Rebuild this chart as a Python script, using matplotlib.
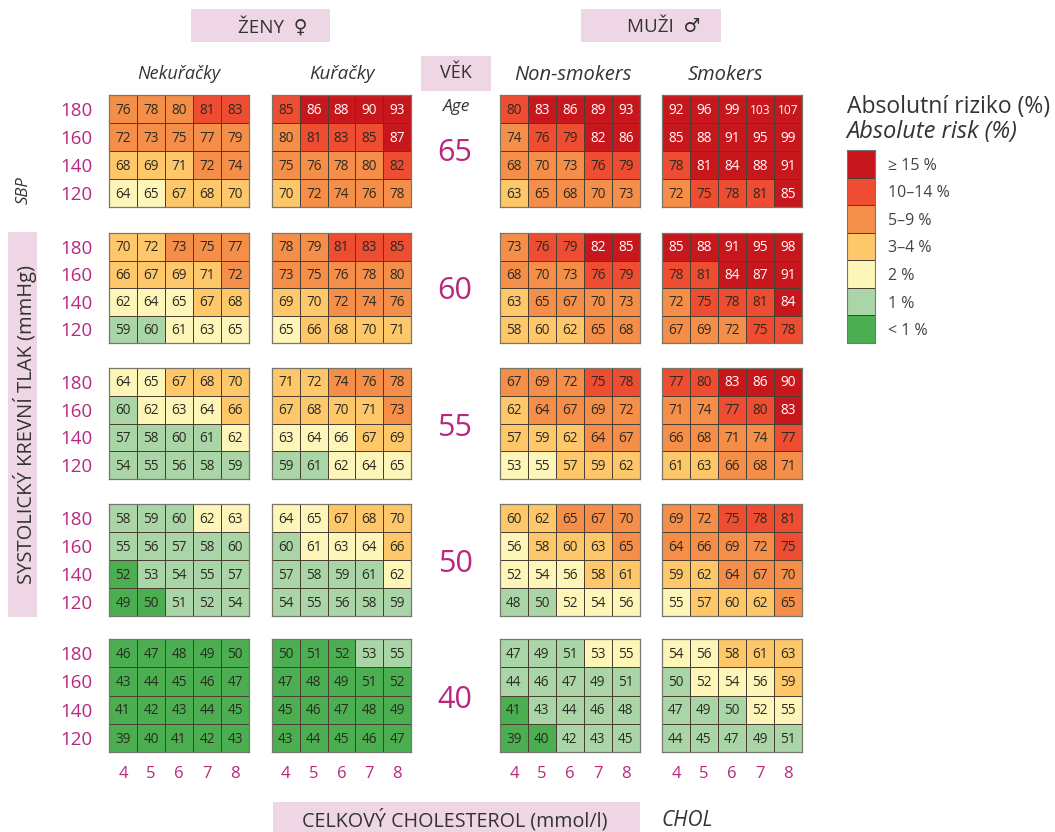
import matplotlib
matplotlib.use("Agg")
import matplotlib.pyplot as plt
import numpy as np
from matplotlib.colors import ListedColormap, BoundaryNorm
from matplotlib.patches import Rectangle

plt.rcParams['font.family'] = ['Open Sans', 'DejaVu Sans']

W = 1055
H = 832

ages = [65, 60, 55, 50, 40]
sbp = [180, 160, 140, 120]
chol = [4, 5, 6, 7, 8]
group_names = ["w_ns", "w_s", "m_ns", "m_s"]

# values printed in the cells
w_ns_vals = {
    65: [[76, 78, 80, 81, 83], [72, 73, 75, 77, 79], [68, 69, 71, 72, 74], [64, 65, 67, 68, 70]],
    60: [[70, 72, 73, 75, 77], [66, 67, 69, 71, 72], [62, 64, 65, 67, 68], [59, 60, 61, 63, 65]],
    55: [[64, 65, 67, 68, 70], [60, 62, 63, 64, 66], [57, 58, 60, 61, 62], [54, 55, 56, 58, 59]],
    50: [[58, 59, 60, 62, 63], [55, 56, 57, 58, 60], [52, 53, 54, 55, 57], [49, 50, 51, 52, 54]],
    40: [[46, 47, 48, 49, 50], [43, 44, 45, 46, 47], [41, 42, 43, 44, 45], [39, 40, 41, 42, 43]],
}
w_s_vals = {
    65: [[85, 86, 88, 90, 93], [80, 81, 83, 85, 87], [75, 76, 78, 80, 82], [70, 72, 74, 76, 78]],
    60: [[78, 79, 81, 83, 85], [73, 75, 76, 78, 80], [69, 70, 72, 74, 76], [65, 66, 68, 70, 71]],
    55: [[71, 72, 74, 76, 78], [67, 68, 70, 71, 73], [63, 64, 66, 67, 69], [59, 61, 62, 64, 65]],
    50: [[64, 65, 67, 68, 70], [60, 61, 63, 64, 66], [57, 58, 59, 61, 62], [54, 55, 56, 58, 59]],
    40: [[50, 51, 52, 53, 55], [47, 48, 49, 51, 52], [45, 46, 47, 48, 49], [43, 44, 45, 46, 47]],
}
m_ns_vals = {
    65: [[80, 83, 86, 89, 93], [74, 76, 79, 82, 86], [68, 70, 73, 76, 79], [63, 65, 68, 70, 73]],
    60: [[73, 76, 79, 82, 85], [68, 70, 73, 76, 79], [63, 65, 67, 70, 73], [58, 60, 62, 65, 68]],
    55: [[67, 69, 72, 75, 78], [62, 64, 67, 69, 72], [57, 59, 62, 64, 67], [53, 55, 57, 59, 62]],
    50: [[60, 62, 65, 67, 70], [56, 58, 60, 63, 65], [52, 54, 56, 58, 61], [48, 50, 52, 54, 56]],
    40: [[47, 49, 51, 53, 55], [44, 46, 47, 49, 51], [41, 43, 44, 46, 48], [39, 40, 42, 43, 45]],
}
m_s_vals = {
    65: [[92, 96, 99, 103, 107], [85, 88, 91, 95, 99], [78, 81, 84, 88, 91], [72, 75, 78, 81, 85]],
    60: [[85, 88, 91, 95, 98], [78, 81, 84, 87, 91], [72, 75, 78, 81, 84], [67, 69, 72, 75, 78]],
    55: [[77, 80, 83, 86, 90], [71, 74, 77, 80, 83], [66, 68, 71, 74, 77], [61, 63, 66, 68, 71]],
    50: [[69, 72, 75, 78, 81], [64, 66, 69, 72, 75], [59, 62, 64, 67, 70], [55, 57, 60, 62, 65]],
    40: [[54, 56, 58, 61, 63], [50, 52, 54, 56, 59], [47, 49, 50, 52, 55], [44, 45, 47, 49, 51]],
}

# risk class of each cell, 0 = <1 % ... 6 = >=15 %
w_ns_risk = {
    65: [[4, 4, 4, 5, 5], [4, 4, 4, 4, 4], [3, 3, 3, 4, 4], [2, 2, 3, 3, 3]],
    60: [[3, 3, 4, 4, 4], [3, 3, 3, 3, 4], [2, 2, 2, 3, 3], [1, 1, 2, 2, 2]],
    55: [[2, 2, 3, 3, 3], [1, 2, 2, 2, 3], [1, 1, 1, 1, 2], [1, 1, 1, 1, 1]],
    50: [[1, 1, 1, 2, 2], [1, 1, 1, 1, 1], [0, 1, 1, 1, 1], [0, 0, 1, 1, 1]],
    40: [[0, 0, 0, 0, 0], [0, 0, 0, 0, 0], [0, 0, 0, 0, 0], [0, 0, 0, 0, 0]],
}
w_s_risk = {
    65: [[5, 6, 6, 6, 6], [4, 5, 5, 5, 6], [4, 4, 4, 4, 5], [3, 4, 4, 4, 4]],
    60: [[4, 4, 5, 5, 5], [4, 4, 4, 4, 4], [3, 3, 4, 4, 4], [2, 3, 3, 3, 3]],
    55: [[3, 3, 4, 4, 4], [3, 3, 3, 3, 4], [2, 2, 2, 3, 3], [1, 1, 2, 2, 2]],
    50: [[2, 2, 3, 3, 3], [1, 2, 2, 2, 3], [1, 1, 1, 1, 2], [1, 1, 1, 1, 1]],
    40: [[0, 0, 0, 1, 1], [0, 0, 0, 0, 0], [0, 0, 0, 0, 0], [0, 0, 0, 0, 0]],
}
m_ns_risk = {
    65: [[5, 6, 6, 6, 6], [4, 5, 5, 6, 6], [4, 4, 4, 5, 5], [3, 4, 4, 4, 4]],
    60: [[4, 5, 5, 6, 6], [4, 4, 4, 5, 5], [3, 4, 4, 4, 4], [3, 3, 3, 4, 4]],
    55: [[4, 4, 4, 5, 5], [3, 4, 4, 4, 4], [3, 3, 3, 4, 4], [2, 2, 3, 3, 3]],
    50: [[3, 3, 4, 4, 4], [2, 3, 3, 3, 4], [2, 2, 2, 3, 3], [1, 1, 2, 2, 2]],
    40: [[1, 1, 1, 2, 2], [1, 1, 1, 1, 1], [0, 1, 1, 1, 1], [0, 0, 1, 1, 1]],
}
m_s_risk = {
    65: [[6, 6, 6, 6, 6], [6, 6, 6, 6, 6], [5, 6, 6, 6, 6], [4, 5, 5, 5, 6]],
    60: [[6, 6, 6, 6, 6], [5, 5, 6, 6, 6], [4, 5, 5, 5, 6], [4, 4, 4, 5, 5]],
    55: [[5, 5, 6, 6, 6], [4, 4, 5, 5, 6], [4, 4, 4, 4, 5], [3, 3, 4, 4, 4]],
    50: [[4, 4, 5, 5, 5], [4, 4, 4, 4, 5], [3, 3, 4, 4, 4], [2, 3, 3, 3, 4]],
    40: [[2, 2, 3, 3, 3], [1, 2, 2, 2, 3], [1, 1, 1, 2, 2], [1, 1, 1, 1, 1]],
}

risk_colors = ['#4bae50', '#a9d5a7', '#fef6b8', '#fdc76a', '#f58e48', '#ee4d31', '#c8161d']
legend_classes = [6, 5, 4, 3, 2, 1, 0]
legend_labels = ['≥ 15 %', '10–14 %', '5–9 %', '3–4 %', '2 %', '1 %', '< 1 %']

cmap = ListedColormap(risk_colors)
norm = BoundaryNorm(np.arange(-0.5, 7.5, 1), cmap.N)

PINK = '#efd6e5'
MAGENTA = '#b9277f'
DARK = '#333333'
GRIDC = '#4a3f32'

# pixel boxes of the panels
col_x = {"w_ns": (109, 249), "w_s": (272, 411), "m_ns": (500, 640), "m_s": (662, 802)}
row_y = {65: (95, 207), 60: (233, 343), 55: (368, 479), 50: (504, 616), 40: (639, 752)}

vals = {"w_ns": w_ns_vals, "w_s": w_s_vals, "m_ns": m_ns_vals, "m_s": m_s_vals}
risks = {"w_ns": w_ns_risk, "w_s": w_s_risk, "m_ns": m_ns_risk, "m_s": m_s_risk}


def px_axes(x0, y0, x1, y1):
    return fig.add_axes([x0 / W, 1 - y1 / H, (x1 - x0) / W, (y1 - y0) / H])


def label(x, y, s, **kw):
    kw.setdefault('ha', 'center')
    kw.setdefault('va', 'center')
    kw.setdefault('color', DARK)
    fig.text(x / W, 1 - y / H, s, **kw)


def pink_box(x0, y0, x1, y1):
    fig.add_artist(Rectangle((x0 / W, 1 - y1 / H), (x1 - x0) / W, (y1 - y0) / H,
                             transform=fig.transFigure, facecolor=PINK, edgecolor='none'))


fig = plt.figure(figsize=(W / 100, H / 100), dpi=100, facecolor='white')

pink_box(191, 9, 330, 42)
pink_box(581, 9, 721, 42)
pink_box(421, 56, 491, 91)
pink_box(8, 232, 37, 617)
pink_box(273, 802, 640, 832)

for name in group_names:
    x0, x1 = col_x[name]
    for age in ages:
        y0, y1 = row_y[age]
        ax = px_axes(x0, y0, x1, y1)
        z = np.array(risks[name][age])
        ax.pcolormesh(z, cmap=cmap, norm=norm, edgecolors=GRIDC, linewidth=0.7)
        ax.set_ylim(4, 0)
        for i in range(4):
            for j in range(5):
                v = vals[name][age][i][j]
                ax.text(j + 0.5, i + 0.54, str(v), ha='center', va='center',
                        fontsize=8.6 if v > 99 else 9.8, color='white' if z[i, j] == 6 else '#2b2b22')
        ax.set_xticks(np.arange(5) + 0.5)
        ax.set_yticks(np.arange(4) + 0.5)
        ax.set_xticklabels(chol if age == 40 else [], fontsize=12, color=MAGENTA)
        ax.set_yticklabels(sbp if name == "w_ns" else [], fontsize=13.5, color=MAGENTA,
                           va='center_baseline')
        ax.tick_params(length=0)
        ax.tick_params(axis='x', pad=10)
        ax.tick_params(axis='y', pad=12)
        for sp in ax.spines.values():
            sp.set_color('#77776c')
            sp.set_linewidth(0.9)

age_y = {65: 153, 60: 291, 55: 428, 50: 564, 40: 700}
for age in ages:
    label(455, age_y[age], str(age), fontsize=22, color=MAGENTA)

label(273, 27, 'ŽENY  ♀', fontsize=13.5)
label(664, 27, 'MUŽI  ♂', fontsize=13.5)
label(456, 73, 'VĚK', fontsize=13)
label(457, 107, 'Age', fontsize=12.5, style='italic')
label(179, 74, 'Nekuřačky', fontsize=13, style='italic')
label(342, 74, 'Kuřačky', fontsize=13.5, style='italic')
label(573, 75, 'Non-smokers', fontsize=14.5, style='italic')
label(725, 75, 'Smokers', fontsize=14.5, style='italic')
label(24, 190, 'SBP', fontsize=12, style='italic', rotation=90)
label(25, 424, 'SYSTOLICKÝ KREVNÍ TLAK (mmHg)', fontsize=14.5, rotation=90)
label(455, 820, 'CELKOVÝ CHOLESTEROL (mmol/l)', fontsize=14.2)
label(687, 820, 'CHOL', fontsize=15, style='italic')

label(847, 107, 'Absolutní riziko (%)', fontsize=16.5, ha='left')
label(846, 132, 'Absolute risk (%)', fontsize=17, ha='left', style='italic')

lax = px_axes(847, 150, 875, 343)
lax.pcolormesh(np.array(legend_classes).reshape(-1, 1), cmap=cmap, norm=norm,
               edgecolors=GRIDC, linewidth=0.5)
lax.set_ylim(7, 0)
lax.set_xticks([])
lax.yaxis.tick_right()
lax.set_yticks(np.arange(7) + 0.5)
lax.set_yticklabels(legend_labels, fontsize=11.5, color='#444444')
lax.tick_params(length=0, pad=9)
for sp in lax.spines.values():
    sp.set_color('#77776c')
    sp.set_linewidth(0.8)

fig.savefig('out.png', dpi=100)
